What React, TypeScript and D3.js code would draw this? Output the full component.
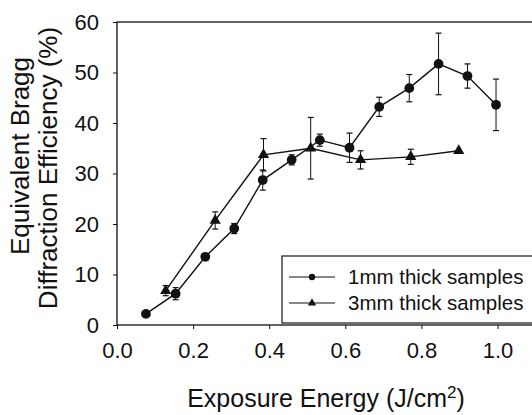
import React, { useEffect, useRef } from 'react';
import * as d3 from 'd3';

// 1mm thick samples (circles)
const thin_x = [0.076, 0.154, 0.232, 0.308, 0.383, 0.459, 0.533, 0.611, 0.689, 0.768, 0.845, 0.921, 0.996];
const thin_y = [2.2, 6.2, 13.5, 19.1, 28.7, 32.7, 36.6, 35.1, 43.2, 46.9, 51.7, 49.3, 43.6];
const thin_err = [0, 1.2, 0, 1.0, 2.0, 1.0, 1.2, 2.9, 1.9, 2.7, 6.1, 2.4, 5.1];

// 3mm thick samples (triangles)
const thick_x = [0.128, 0.258, 0.385, 0.509, 0.640, 0.772, 0.898];
const thick_y = [6.8, 20.7, 33.7, 35.0, 32.7, 33.3, 34.5];
const thick_err = [1.0, 1.7, 3.2, 6.1, 1.8, 1.5, 0];

const xTicks = [0, 0.2, 0.4, 0.6, 0.8, 1.0];
const yTicks = [0, 10, 20, 30, 40, 50, 60];
const legendLabels = ['1mm thick samples', '3mm thick samples'];

const FONT = '"Liberation Sans", Arial, Helvetica, sans-serif';

const App: React.FC = () => {
  const svgRef = useRef<SVGSVGElement>(null);

  useEffect(() => {
    const svg = d3.select(svgRef.current);
    svg.selectAll('*').remove();

    const left = 117, right = 535.6, top = 22, bottom = 325;

    const x = d3.scaleLinear().domain([0, 1.1]).range([left, right]);
    const y = d3.scaleLinear().domain([0, 60]).range([bottom, top]);

    const g = svg.append('g');

    // frame
    g.append('rect')
      .attr('x', left).attr('y', top)
      .attr('width', right - left).attr('height', bottom - top)
      .attr('fill', 'none').attr('stroke', '#111').attr('stroke-width', 1.3);

    // axes
    const xAxis = g.append('g')
      .attr('transform', `translate(0,${bottom})`)
      .call(d3.axisBottom(x).tickValues(xTicks).tickSize(4).tickPadding(13).tickFormat(d3.format('.1f')));
    const yAxis = g.append('g')
      .attr('transform', `translate(${left},0)`)
      .call(d3.axisLeft(y).tickValues(yTicks).tickSize(4).tickPadding(14));
    [xAxis, yAxis].forEach(a => {
      a.select('.domain').remove();
      a.selectAll('line').attr('stroke', '#111').attr('stroke-width', 1);
      a.selectAll('text').attr('fill', '#111').style('font-family', FONT).style('font-size', '22px');
    });

    const drawSeries = (xs: number[], ys: number[], errs: number[], marker: 'circle' | 'triangle') => {
      const pts = xs.map((v, i) => ({ x: v, y: ys[i], e: errs[i] }));
      const line = d3.line<any>().x(d => x(d.x)).y(d => y(d.y));
      g.append('path').datum(pts)
        .attr('fill', 'none').attr('stroke', '#111').attr('stroke-width', 1.4).attr('d', line);

      const eb = g.append('g');
      pts.filter(p => p.e > 0).forEach(p => {
        const cx = x(p.x);
        eb.append('line').attr('x1', cx).attr('x2', cx)
          .attr('y1', y(p.y - p.e)).attr('y2', y(p.y + p.e))
          .attr('stroke', '#111').attr('stroke-width', 1);
        [p.y - p.e, p.y + p.e].forEach(v => {
          eb.append('line').attr('x1', cx - 3).attr('x2', cx + 3)
            .attr('y1', y(v)).attr('y2', y(v))
            .attr('stroke', '#111').attr('stroke-width', 1.2);
        });
      });

      const sym = marker === 'circle'
        ? d3.symbol().type(d3.symbolCircle).size(75)
        : d3.symbol().type(d3.symbolTriangle).size(55);
      g.selectAll(null).data(pts).enter().append('path')
        .attr('transform', d => `translate(${x(d.x)},${y(d.y)})`)
        .attr('d', sym as any)
        .attr('fill', '#111');
    };

    drawSeries(thin_x, thin_y, thin_err, 'circle');
    drawSeries(thick_x, thick_y, thick_err, 'triangle');

    // legend
    const lg = g.append('g');
    lg.append('rect')
      .attr('x', 282).attr('y', 256).attr('width', 270).attr('height', 67)
      .attr('fill', '#fff').attr('stroke', '#111').attr('stroke-width', 1.2);
    legendLabels.forEach((lab, i) => {
      const ly = 277 + i * 26;
      lg.append('line').attr('x1', 289).attr('x2', 335).attr('y1', ly).attr('y2', ly)
        .attr('stroke', '#111').attr('stroke-width', 1.2);
      const sym = i === 0
        ? d3.symbol().type(d3.symbolCircle).size(32)
        : d3.symbol().type(d3.symbolTriangle).size(30);
      lg.append('path').attr('transform', `translate(312,${ly})`).attr('d', sym() as string).attr('fill', '#111');
      lg.append('text').attr('x', 348).attr('y', ly + 7)
        .style('font-family', FONT).style('font-size', '20.5px').attr('fill', '#111')
        .text(lab);
    });

    // axis titles
    const xt = svg.append('text')
      .attr('x', 326).attr('y', 407)
      .attr('text-anchor', 'middle')
      .style('font-family', FONT).style('font-size', '25px').attr('fill', '#111');
    xt.append('tspan').text('Exposure Energy (J/cm');
    xt.append('tspan').attr('dy', -9).style('font-size', '17px').text('2');
    xt.append('tspan').attr('dy', 9).text(')');

    const yt = svg.append('text')
      .attr('transform', 'rotate(-90)')
      .attr('text-anchor', 'middle')
      .style('font-family', FONT).style('font-size', '26px').attr('fill', '#111');
    yt.append('tspan').attr('x', -156).attr('y', 29).text('Equivalent Bragg');
    yt.append('tspan').attr('x', -168).attr('y', 57).text('Diffraction Efficiency (%)');
  }, []);

  return (
    <svg ref={svgRef} width={532} height={415}
      style={{ position: 'absolute', left: 0, top: 0, background: '#fff' }} />
  );
};

export default App;
